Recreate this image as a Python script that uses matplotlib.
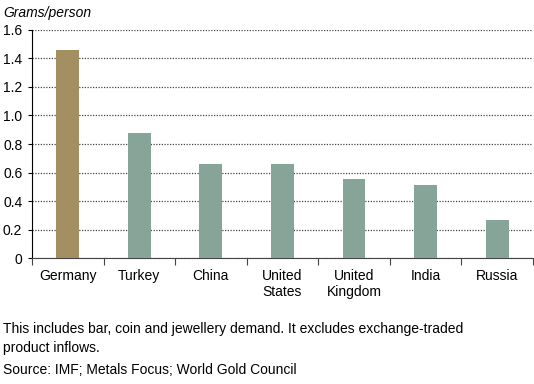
import matplotlib.pyplot as plt

countries = ["Germany", "Turkey", "China", "United\nStates", "United\nKingdom", "India", "Russia"]
grams = [1.46, 0.875, 0.66, 0.66, 0.555, 0.51, 0.265]
colors = ["#A38F62"] + ["#86A598"] * 6

plt.rcParams['font.family'] = ['Liberation Sans', 'DejaVu Sans']

fig = plt.figure(figsize=(5.34, 3.84), dpi=100)
ax = fig.add_axes([0.06, 0.328, 0.938, 0.594])

x = range(len(countries))
ax.bar(x, grams, width=0.32, color=colors, zorder=3)

ax.set_ylim(0, 1.6)
ax.set_xlim(-0.5, len(countries) - 0.5)
ax.set_yticks([0, 0.2, 0.4, 0.6, 0.8, 1.0, 1.2, 1.4, 1.6])
ax.set_yticklabels(["0", "0.2", "0.4", "0.6", "0.8", "1.0", "1.2", "1.4", "1.6"], fontsize=10)
ax.yaxis.grid(True, linestyle=(0, (1, 1.2)), color="#444444", linewidth=0.9, zorder=0)
ax.set_axisbelow(True)

ax.set_xticks([i + 0.5 for i in range(-1, len(countries))])
ax.set_xticklabels([])
ax.set_xticks(list(x), minor=True)
ax.set_xticklabels(countries, minor=True, fontsize=10, va="top", linespacing=1.15)
ax.tick_params(axis="x", which="major", direction="out", length=5, color="#444444")
ax.tick_params(axis="x", which="minor", length=0, pad=8)
ax.tick_params(axis="y", length=3, direction="out", pad=4)

for s in ["top", "right"]:
    ax.spines[s].set_visible(False)
ax.spines["bottom"].set_color("#444444")
ax.spines["left"].set_color("#000000")

fig.text(0.006, 0.966, "Grams/person", fontsize=10, style="italic", va="center")
fig.text(0.006, 0.118, "This includes bar, coin and jewellery demand. It excludes exchange-traded\nproduct inflows.",
         fontsize=10, va="center", linespacing=1.45)
fig.text(0.006, 0.036, "Source: IMF; Metals Focus; World Gold Council", fontsize=10, va="center")

fig.savefig("out.png", dpi=100)
